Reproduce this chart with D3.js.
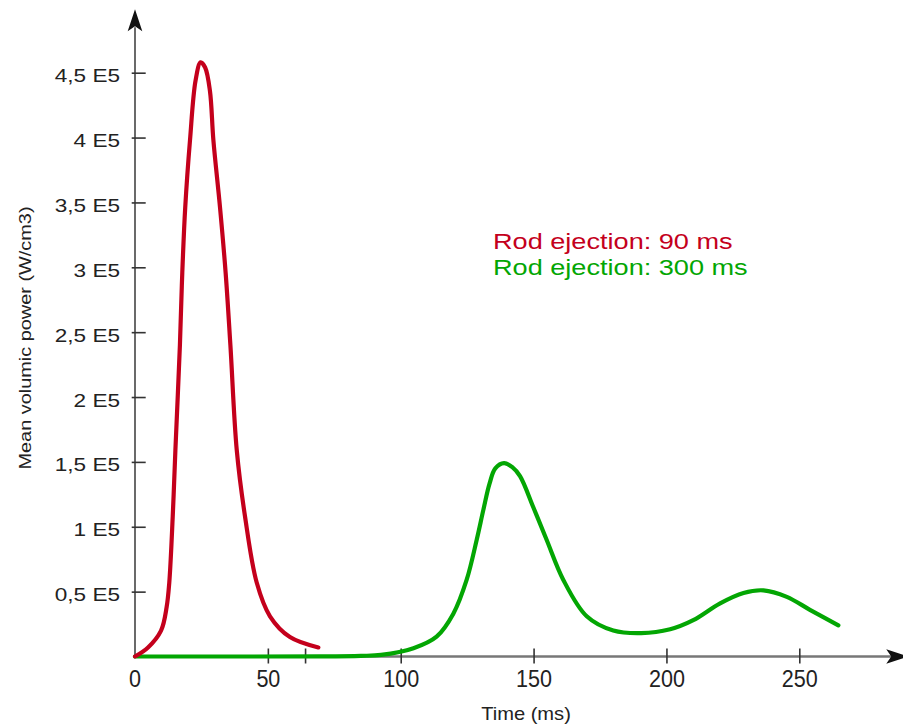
<!DOCTYPE html>
<html>
<head>
<meta charset="utf-8">
<script src="https://cdn.jsdelivr.net/npm/d3@7"></script>
<style>
  body { margin: 0; background: #fff; }
  text { font-family: "Liberation Sans", Arial, sans-serif; }
</style>
</head>
<body>
<div class="chart"></div>
<script>
// time (ms) and mean volumic power (E5 W/cm3)
const redT = [0, 4.9, 9.8, 11.9, 12.9, 14.2, 15.2, 16.9, 17.8, 18.9, 20.7, 22.8, 24.7, 26.4, 28.2, 29.5, 32.0, 34.1, 35.9, 38.3, 41.4, 45.8, 50.8, 58.3, 69.0];
const redP = [0, 0.07, 0.2, 0.38, 0.57, 1.08, 1.59, 2.40, 2.96, 3.46, 3.98, 4.44, 4.58, 4.54, 4.36, 3.98, 3.46, 2.96, 2.40, 1.59, 1.08, 0.57, 0.31, 0.15, 0.07];

const greenT = [0, 40, 70, 85, 92.6, 104.8, 113.5, 119.8, 124.8, 128.6, 131.1, 133.4, 135.6, 138.9, 142.0, 144.9, 149.9, 154.9, 161.2, 170.0, 180.0, 190.5, 201.4, 210.1, 220.2, 229.0, 236.5, 245.3, 254.0, 264.7];
const greenP = [0, 0, 0.001, 0.005, 0.012, 0.064, 0.153, 0.33, 0.59, 0.90, 1.13, 1.33, 1.45, 1.49, 1.46, 1.39, 1.15, 0.90, 0.59, 0.31, 0.20, 0.18, 0.21, 0.28, 0.41, 0.49, 0.51, 0.46, 0.36, 0.24];

const yTicks = [0.5, 1, 1.5, 2, 2.5, 3, 3.5, 4, 4.5];
const yTickLabels = ["0,5 E5", "1 E5", "1,5 E5", "2 E5", "2,5 E5", "3 E5", "3,5 E5", "4 E5", "4,5 E5"];
const xTicks = [50, 64, 100, 150, 200, 250];
const xTickLabels = ["50", "", "100", "150", "200", "250"];
const legendLabels = ["Rod ejection: 90 ms", "Rod ejection: 300 ms"];

const w = 903;
const h = 724;
const red = "#c4001c";
const green = "#03a603";

const x = d3.scaleLinear().domain([0, 250]).range([135, 799.3]);
const y = d3.scaleLinear().domain([0, 4.5]).range([656.5, 72.7]);

const svg = d3.select(".chart")
  .append("svg")
  .attr("width", w)
  .attr("height", h);

// x axis line + arrow
svg.append("line")
  .attr("x1", x(0)).attr("x2", x(287))
  .attr("y1", y(0)).attr("y2", y(0))
  .attr("stroke", "#777")
  .attr("stroke-width", 2.5);
const xt = x(291), x0 = y(0);
svg.append("path")
  .attr("d", `M${xt},${x0} L${xt - 22},${x0 - 7.3} L${xt - 17},${x0} L${xt - 22},${x0 + 7.3} Z`)
  .attr("fill", "#111");

// y axis line + arrow
svg.append("line")
  .attr("x1", x(0)).attr("x2", x(0))
  .attr("y1", y(0)).attr("y2", y(4.85))
  .attr("stroke", "#444")
  .attr("stroke-width", 1.6);
const yt = y(4.99), y0 = x(0);
svg.append("path")
  .attr("d", `M${y0},${yt} L${y0 - 7.3},${yt + 22} L${y0},${yt + 17} L${y0 + 7.3},${yt + 22} Z`)
  .attr("fill", "#111");

// y ticks
const yAxis = d3.axisLeft(y)
  .tickValues(yTicks)
  .tickFormat((d, i) => yTickLabels[i])
  .tickSize(3.3);
const gy = svg.append("g")
  .attr("transform", `translate(${x(0)},0)`)
  .call(yAxis);
gy.select(".domain").remove();
gy.selectAll(".tick line").attr("x1", 10.7).attr("stroke", "#333").attr("stroke-width", 1.6);
gy.selectAll(".tick text")
  .attr("x", null).attr("dy", null)
  .attr("transform", "translate(-15,9) scale(1.22,1)")
  .attr("font-size", 18.5)
  .attr("fill", "#222")
  .attr("font-family", "Liberation Sans, Arial, sans-serif");

// x ticks
const xAxis = d3.axisBottom(x)
  .tickValues(xTicks)
  .tickFormat((d, i) => xTickLabels[i])
  .tickSize(7);
const gx = svg.append("g")
  .attr("transform", `translate(0,${y(0)})`)
  .call(xAxis);
gx.select(".domain").remove();
gx.selectAll(".tick line").attr("y1", -8).attr("stroke", "#333").attr("stroke-width", 1.6);
gx.selectAll(".tick text")
  .attr("y", null).attr("dy", null)
  .attr("transform", "translate(0,30.5) scale(0.88,1)")
  .attr("font-size", 24.5)
  .attr("fill", "#222")
  .attr("font-family", "Liberation Sans, Arial, sans-serif");

// the "0" under the origin has no tick
svg.append("text")
  .attr("transform", `translate(${x(0)},${y(0) + 30.5}) scale(0.88,1)`)
  .attr("text-anchor", "middle")
  .attr("font-size", 24.5)
  .attr("fill", "#222")
  .text("0");

// axis titles
svg.append("text")
  .attr("transform", "translate(31,338) rotate(-90) scale(1.17,1)")
  .attr("text-anchor", "middle")
  .attr("font-size", 17)
  .attr("fill", "#222")
  .text("Mean volumic power (W/cm3)");

svg.append("text")
  .attr("transform", "translate(526,720) scale(1.15,1)")
  .attr("text-anchor", "middle")
  .attr("font-size", 17.5)
  .attr("fill", "#222")
  .text("Time (ms)");

// curves
const line = d3.line()
  .x((d) => x(d[0]))
  .y((d) => y(d[1]))
  .curve(d3.curveCatmullRom.alpha(0.5));

svg.append("path")
  .datum(greenT.map((t, i) => [t, greenP[i]]))
  .attr("d", line)
  .attr("fill", "none")
  .attr("stroke", green)
  .attr("stroke-width", 4.2)
  .attr("stroke-linecap", "round");

svg.append("path")
  .datum(redT.map((t, i) => [t, redP[i]]))
  .attr("d", line)
  .attr("fill", "none")
  .attr("stroke", red)
  .attr("stroke-width", 4.2)
  .attr("stroke-linecap", "round")
  .attr("stroke-linejoin", "round");

// legend
svg.selectAll(".legend")
  .data(legendLabels)
  .enter()
  .append("text")
  .attr("class", "legend")
  .attr("transform", (d, i) => `translate(493,${249 + i * 26}) scale(1.2,1)`)
  .attr("font-size", 22.6)
  .attr("fill", (d, i) => i === 0 ? red : green)
  .text((d) => d);
</script>
</body>
</html>
